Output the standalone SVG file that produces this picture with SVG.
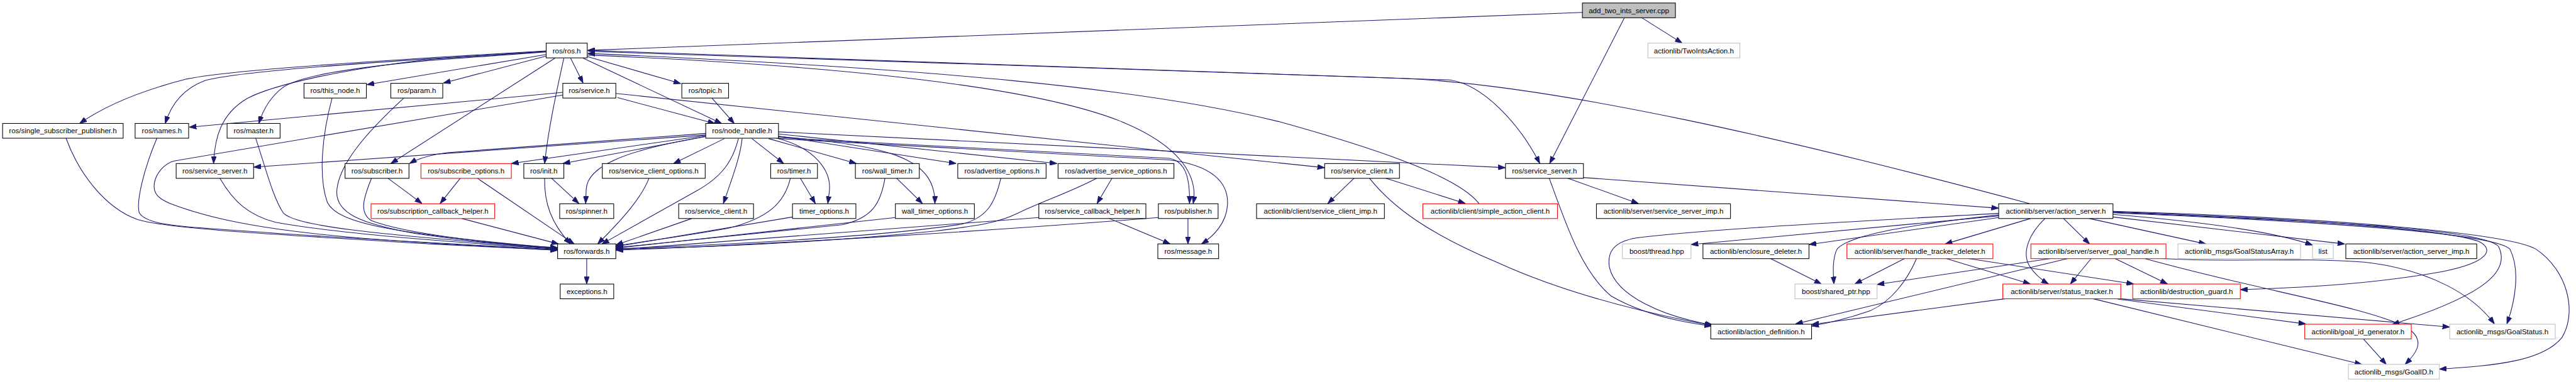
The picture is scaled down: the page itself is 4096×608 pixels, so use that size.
<svg xmlns="http://www.w3.org/2000/svg" width="4096" height="608" viewBox="0 0 4096 608">
<defs>
<marker id="arr" markerUnits="userSpaceOnUse" viewBox="0 0 14 10" markerWidth="14" markerHeight="10" refX="14" refY="5" orient="auto">
<path d="M0,0 L14,5 L0,10 z" fill="#191970" stroke="#191970" stroke-width="1"/>
</marker>
<style>
.node rect{fill:#fff;stroke:#000;stroke-width:1.3}
.red rect{stroke:#ff0000}
.grey rect{stroke:#bfbfbf}
.root rect{fill:#bfbfbf}
.node text{font-family:"Liberation Sans",Arial,sans-serif;font-size:14px;text-anchor:middle;fill:#000}
#edges path{fill:none;stroke:#191970;stroke-width:1.3;marker-end:url(#arr)}
</style>
</defs>
<rect width="4096" height="608" fill="#fff"/>
<g transform="scale(0.82631)">
<g id="edges">
<path d="M3045,24 L1131,97"/>
<path d="M3159,34 L3237,83"/>
<path d="M3126,34 L2982,315"/>
<path d="M1051,98 L830,111 C600,126 430,138 360,152 C270,175 200,205 153,238"/>
<path d="M1051,99 L830,113 C620,127 450,140 395,155 C350,172 328,205 318,238"/>
<path d="M1051,100 L830,116 C660,132 575,148 545,168 C518,188 505,215 498,238"/>
<path d="M1051,99 L830,114 C660,133 525,163 475,190 C425,220 413,265 411,315"/>
<path d="M1051,105 L706,163"/>
<path d="M1051,108 L853,160"/>
<path d="M1068,112 L752,315"/>
<path d="M1085,112 C1070,180 1055,250 1048,315"/>
<path d="M1098,112 L1122,160"/>
<path d="M1122,112 L1389,238"/>
<path d="M1130,109 L1310,161"/>
<path d="M1131,106 C1650,128 2000,170 2160,235 C2280,285 2305,345 2296,392"/>
<path d="M1132,99 L2790,154 C2855,163 2925,240 2963,315"/>
<path d="M3905,392 C3450,270 3000,165 2700,151 L1131,97"/>
<path d="M2846,392 C2810,345 2680,295 2460,234 C2200,170 1800,132 1131,103"/>
<path d="M1083,178 L364,245"/>
<path d="M1083,183 L335,310 C318,314 300,333 297,353 C294,373 305,383 330,393 C480,450 700,462 1073,482"/>
<path d="M1188,188 L1376,238"/>
<path d="M1185,180 L2549,323"/>
<path d="M1498,254 L2897,323"/>
<path d="M1498,262 L1840,315"/>
<path d="M1498,258 L2034,315"/>
<path d="M1498,263 C1700,280 1800,300 1799,392"/>
<path d="M1498,265 L2250,305 C2280,310 2290,340 2289,392"/>
<path d="M1498,267 L2250,308 C2330,318 2365,350 2362,395 C2360,430 2335,455 2312,470"/>
<path d="M1479,267 L1648,315"/>
<path d="M1447,267 L1508,315"/>
<path d="M1494,266 C1570,285 1600,330 1596,368 L1593,392"/>
<path d="M1394,267 L1296,315"/>
<path d="M1421,267 C1410,310 1390,340 1340,368 L1158,470"/>
<path d="M1428,267 C1425,300 1410,340 1392,392"/>
<path d="M1358,263 C1200,290 1130,320 1128,365 L1127,392"/>
<path d="M1358,257 L860,294 C830,298 805,305 788,315"/>
<path d="M1358,260 L488,322"/>
<path d="M1358,261 L984,315"/>
<path d="M1358,263 L1083,315"/>
<path d="M1370,189 L1413,238"/>
<path d="M127,266 C150,330 200,400 265,423 C320,440 500,450 830,470 L1073,482"/>
<path d="M302,266 C275,330 262,390 268,410 C280,430 330,435 400,440 C600,455 800,466 1073,481"/>
<path d="M423,343 C450,390 480,415 530,428 C650,450 850,465 1073,480"/>
<path d="M492,266 C510,320 525,380 545,410 C570,435 700,450 1073,479"/>
<path d="M639,189 C620,260 612,340 630,390 C650,430 750,450 1073,478"/>
<path d="M777,189 C700,260 650,320 648,370 C648,410 690,430 800,450 C900,465 1000,474 1073,478"/>
<path d="M715,343 C700,380 690,410 715,425 C780,450 950,470 1073,477"/>
<path d="M746,343 L812,392"/>
<path d="M886,343 L847,392"/>
<path d="M918,343 L1105,470"/>
<path d="M889,421 L1075,470"/>
<path d="M1048,343 C1047,390 1060,430 1098,470"/>
<path d="M1061,343 L1114,392"/>
<path d="M1249,343 C1235,380 1200,420 1150,470"/>
<path d="M1521,343 C1510,390 1480,420 1400,440 C1300,458 1230,466 1185,474"/>
<path d="M1540,343 L1569,392"/>
<path d="M1331,421 L1185,472"/>
<path d="M1525,418 L1185,475"/>
<path d="M1703,343 C1695,390 1680,420 1620,433 L1185,477"/>
<path d="M1725,343 L1775,392"/>
<path d="M1723,419 L1185,478"/>
<path d="M1926,343 C1915,390 1900,420 1850,432 C1700,455 1400,472 1185,479"/>
<path d="M2111,343 C2060,370 2000,390 1960,410 C1920,430 1880,435 1800,445 C1600,465 1400,476 1185,480"/>
<path d="M2140,343 L2111,392"/>
<path d="M1999,419 L1185,481"/>
<path d="M2135,421 L2252,470"/>
<path d="M2229,419 C1900,445 1500,470 1185,482"/>
<path d="M2286,421 L2286,470"/>
<path d="M1129,498 L1129,547"/>
<path d="M2606,343 L2555,392"/>
<path d="M2635,343 C2680,400 2750,450 2880,505 C3000,560 3150,600 3294,627"/>
<path d="M2666,343 L2820,392"/>
<path d="M2981,343 C3010,420 3040,520 3100,570 C3160,605 3230,620 3294,628"/>
<path d="M3016,343 L3153,392"/>
<path d="M3047,342 L3846,401"/>
<path d="M3846,411 C3600,425 3300,440 3150,458 C3100,466 3093,490 3097,515 C3110,570 3200,610 3296,626"/>
<path d="M3846,416 L3254,471"/>
<path d="M3846,419 L3481,471"/>
<path d="M3846,414 C3700,430 3560,450 3535,480 C3525,500 3528,530 3529,547"/>
<path d="M3907,421 L3743,470"/>
<path d="M3935,421 C3905,450 3890,485 3905,512 C3915,528 3930,540 3942,547"/>
<path d="M3971,421 L4021,470"/>
<path d="M4021,421 L4245,470"/>
<path d="M4066,413 C4250,428 4380,448 4450,472"/>
<path d="M4066,418 L4512,470"/>
<path d="M4066,408 C4400,420 4700,440 4770,465 C4800,480 4790,505 4700,523 C4550,550 4400,555 4311,558"/>
<path d="M4066,409 C4450,425 4780,440 4808,475 C4830,520 4790,565 4603,625"/>
<path d="M4066,410 C4500,428 4800,450 4830,480 C4850,520 4840,580 4824,624"/>
<path d="M4066,407 C4500,420 4830,450 4880,480 C4940,520 4960,600 4930,650 C4890,700 4780,705 4694,711"/>
<path d="M3665,498 L3569,547"/>
<path d="M3688,498 C3670,540 3640,580 3600,598 C3560,612 3520,622 3486,628"/>
<path d="M3745,498 L3907,547"/>
<path d="M3788,498 L4106,547"/>
<path d="M3946,498 L3612,548"/>
<path d="M3979,498 L3455,624"/>
<path d="M4024,498 L3984,547"/>
<path d="M4070,498 L4171,547"/>
<path d="M4160,498 C4300,506 4420,495 4550,505 C4680,520 4760,570 4800,624"/>
<path d="M4127,498 C4350,560 4550,590 4630,630 C4670,655 4650,680 4628,702"/>
<path d="M3862,575 L3486,625"/>
<path d="M4075,575 L4714,630"/>
<path d="M4075,576 L4437,624"/>
<path d="M4026,575 L4545,702"/>
<path d="M4548,653 L4592,702"/>
<path d="M3407,498 L3505,547"/>
</g>
<g id="n1" class="node root"><rect x="3045" y="5.8" width="179" height="28.4"/><text x="3134.5" y="25">add_two_ints_server.cpp</text></g>
<g id="n2" class="node"><rect x="1051" y="83.1" width="79" height="28.4"/><text x="1090.5" y="102.3">ros/ros.h</text></g>
<g id="n3" class="node grey"><rect x="3171" y="83.1" width="177" height="28.4"/><text x="3259.5" y="102.3">actionlib/TwoIntsAction.h</text></g>
<g id="n4" class="node"><rect x="585" y="160.5" width="120" height="28.4"/><text x="645" y="179.7">ros/this_node.h</text></g>
<g id="n5" class="node"><rect x="752" y="160.5" width="100" height="28.4"/><text x="802" y="179.7">ros/param.h</text></g>
<g id="n6" class="node"><rect x="1083" y="160.5" width="102" height="28.4"/><text x="1134" y="179.7">ros/service.h</text></g>
<g id="n7" class="node"><rect x="1312" y="160.5" width="90" height="28.4"/><text x="1357" y="179.7">ros/topic.h</text></g>
<g id="n8" class="node"><rect x="5" y="237.8" width="232" height="28.4"/><text x="121" y="257">ros/single_subscriber_publisher.h</text></g>
<g id="n9" class="node"><rect x="260" y="237.8" width="103" height="28.4"/><text x="311.5" y="257">ros/names.h</text></g>
<g id="n10" class="node"><rect x="437" y="237.8" width="102" height="28.4"/><text x="488" y="257">ros/master.h</text></g>
<g id="n11" class="node"><rect x="1358" y="237.8" width="140" height="28.4"/><text x="1428" y="257">ros/node_handle.h</text></g>
<g id="n12" class="node"><rect x="339" y="315.1" width="149" height="28.4"/><text x="413.5" y="334.3">ros/service_server.h</text></g>
<g id="n13" class="node"><rect x="664" y="315.1" width="123" height="28.4"/><text x="725.5" y="334.3">ros/subscriber.h</text></g>
<g id="n14" class="node red"><rect x="810" y="315.1" width="174" height="28.4"/><text x="897" y="334.3">ros/subscribe_options.h</text></g>
<g id="n15" class="node"><rect x="1008" y="315.1" width="77" height="28.4"/><text x="1046.5" y="334.3">ros/init.h</text></g>
<g id="n16" class="node"><rect x="1159" y="315.1" width="198" height="28.4"/><text x="1258" y="334.3">ros/service_client_options.h</text></g>
<g id="n17" class="node"><rect x="1483" y="315.1" width="90" height="28.4"/><text x="1528" y="334.3">ros/timer.h</text></g>
<g id="n18" class="node"><rect x="1646" y="315.1" width="123" height="28.4"/><text x="1707.5" y="334.3">ros/wall_timer.h</text></g>
<g id="n19" class="node"><rect x="1843" y="315.1" width="170" height="28.4"/><text x="1928" y="334.3">ros/advertise_options.h</text></g>
<g id="n20" class="node"><rect x="2036" y="315.1" width="223" height="28.4"/><text x="2147.5" y="334.3">ros/advertise_service_options.h</text></g>
<g id="n21" class="node"><rect x="2549" y="315.1" width="144" height="28.4"/><text x="2621" y="334.3">ros/service_client.h</text></g>
<g id="n22" class="node"><rect x="2897" y="315.1" width="150" height="28.4"/><text x="2972" y="334.3">ros/service_server.h</text></g>
<g id="n23" class="node red"><rect x="714" y="392.5" width="238" height="28.4"/><text x="833" y="411.7">ros/subscription_callback_helper.h</text></g>
<g id="n24" class="node"><rect x="1077" y="392.5" width="104" height="28.4"/><text x="1129" y="411.7">ros/spinner.h</text></g>
<g id="n25" class="node"><rect x="1306" y="392.5" width="144" height="28.4"/><text x="1378" y="411.7">ros/service_client.h</text></g>
<g id="n26" class="node"><rect x="1525" y="392.5" width="122" height="28.4"/><text x="1586" y="411.7">timer_options.h</text></g>
<g id="n27" class="node"><rect x="1723" y="392.5" width="152" height="28.4"/><text x="1799" y="411.7">wall_timer_options.h</text></g>
<g id="n28" class="node"><rect x="1999" y="392.5" width="206" height="28.4"/><text x="2102" y="411.7">ros/service_callback_helper.h</text></g>
<g id="n29" class="node"><rect x="2229" y="392.5" width="115" height="28.4"/><text x="2286.5" y="411.7">ros/publisher.h</text></g>
<g id="n30" class="node"><rect x="2418" y="392.5" width="246" height="28.4"/><text x="2541" y="411.7">actionlib/client/service_client_imp.h</text></g>
<g id="n31" class="node red"><rect x="2738" y="392.5" width="259" height="28.4"/><text x="2867.5" y="411.7">actionlib/client/simple_action_client.h</text></g>
<g id="n32" class="node"><rect x="3072" y="392.5" width="258" height="28.4"/><text x="3201" y="411.7">actionlib/server/service_server_imp.h</text></g>
<g id="n33" class="node"><rect x="3846" y="392.5" width="220" height="28.4"/><text x="3956" y="411.7">actionlib/server/action_server.h</text></g>
<g id="n34" class="node"><rect x="1073" y="469.8" width="112" height="28.4"/><text x="1129" y="489">ros/forwards.h</text></g>
<g id="n35" class="node"><rect x="2228" y="469.8" width="117" height="28.4"/><text x="2286.5" y="489">ros/message.h</text></g>
<g id="n36" class="node grey"><rect x="3122" y="469.8" width="132" height="28.4"/><text x="3188" y="489">boost/thread.hpp</text></g>
<g id="n37" class="node"><rect x="3277" y="469.8" width="204" height="28.4"/><text x="3379" y="489">actionlib/enclosure_deleter.h</text></g>
<g id="n38" class="node red"><rect x="3554" y="469.8" width="281" height="28.4"/><text x="3694.5" y="489">actionlib/server/handle_tracker_deleter.h</text></g>
<g id="n39" class="node red"><rect x="3908" y="469.8" width="260" height="28.4"/><text x="4038" y="489">actionlib/server/server_goal_handle.h</text></g>
<g id="n40" class="node grey"><rect x="4191" y="469.8" width="236" height="28.4"/><text x="4309" y="489">actionlib_msgs/GoalStatusArray.h</text></g>
<g id="n41" class="node grey"><rect x="4450" y="469.8" width="40" height="28.4"/><text x="4470" y="489">list</text></g>
<g id="n42" class="node"><rect x="4514" y="469.8" width="252" height="28.4"/><text x="4640" y="489">actionlib/server/action_server_imp.h</text></g>
<g id="n43" class="node"><rect x="1078" y="547.1" width="103" height="28.4"/><text x="1129.5" y="566.3">exceptions.h</text></g>
<g id="n44" class="node grey"><rect x="3454" y="547.1" width="158" height="28.4"/><text x="3533" y="566.3">boost/shared_ptr.hpp</text></g>
<g id="n45" class="node red"><rect x="3854" y="547.1" width="227" height="28.4"/><text x="3967.5" y="566.3">actionlib/server/status_tracker.h</text></g>
<g id="n46" class="node red"><rect x="4104" y="547.1" width="207" height="28.4"/><text x="4207.5" y="566.3">actionlib/destruction_guard.h</text></g>
<g id="n47" class="node"><rect x="3292" y="624.5" width="194" height="28.4"/><text x="3389" y="643.7">actionlib/action_definition.h</text></g>
<g id="n48" class="node red"><rect x="4435" y="624.5" width="205" height="28.4"/><text x="4537.5" y="643.7">actionlib/goal_id_generator.h</text></g>
<g id="n49" class="node grey"><rect x="4714" y="624.5" width="203" height="28.4"/><text x="4815.5" y="643.7">actionlib_msgs/GoalStatus.h</text></g>
<g id="n50" class="node grey"><rect x="4519" y="701.8" width="175" height="28.4"/><text x="4606.5" y="721">actionlib_msgs/GoalID.h</text></g>
</g>
</svg>
